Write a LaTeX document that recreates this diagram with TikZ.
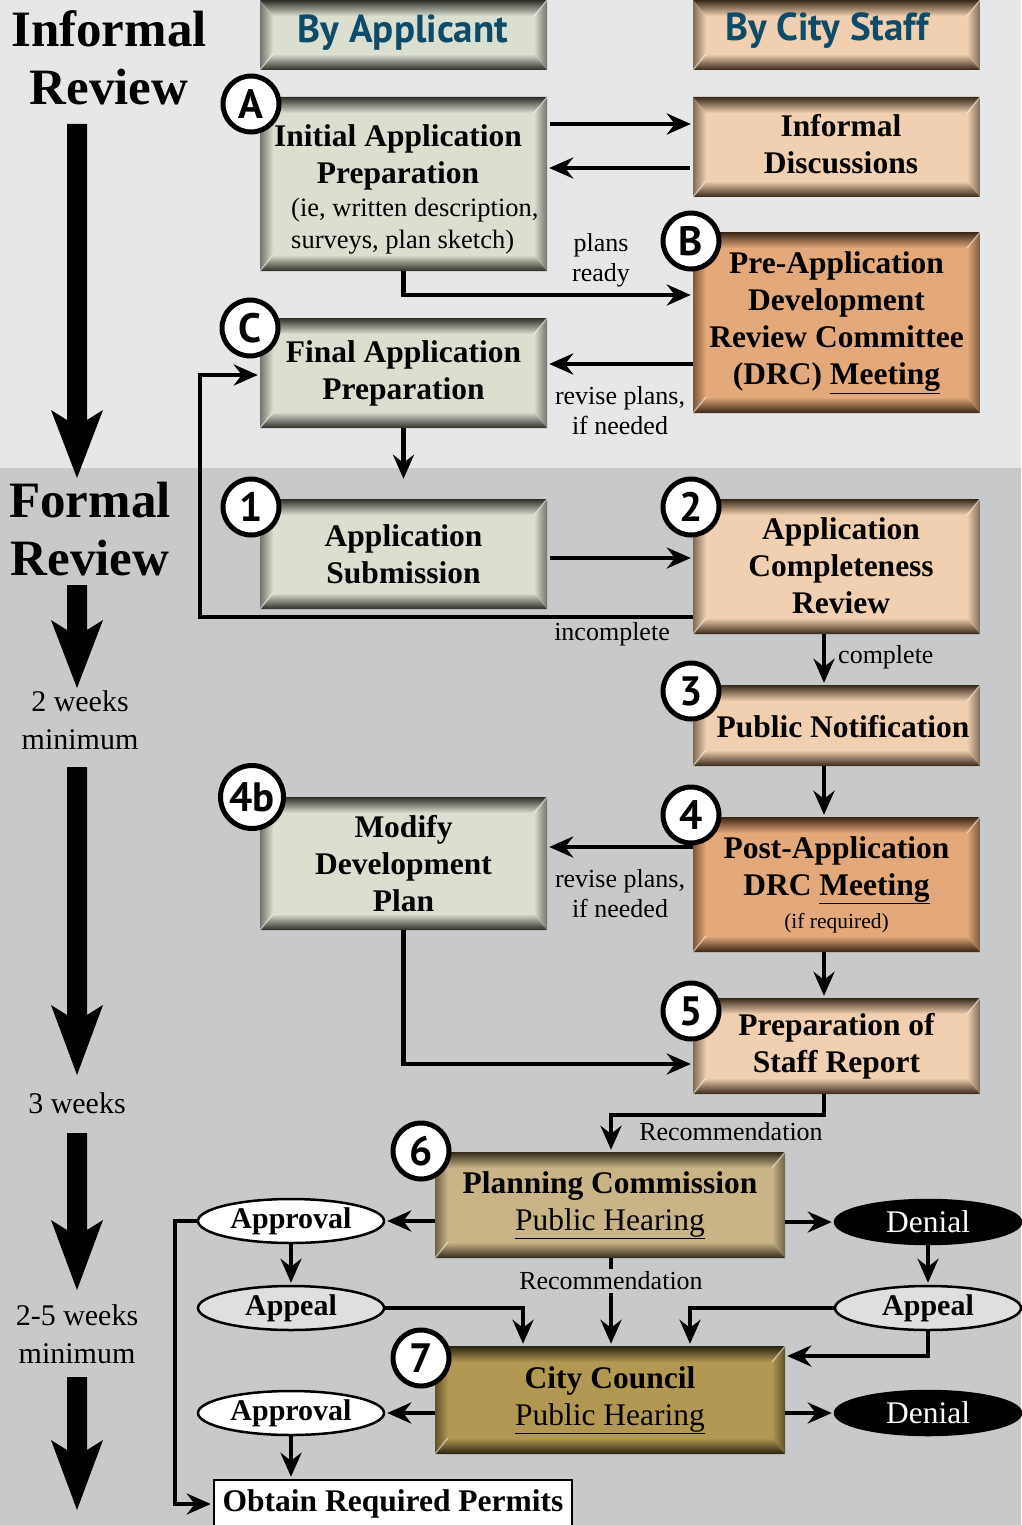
\documentclass[tikz,border=0pt]{standalone}
\usepackage{fontspec}
\setmainfont{Liberation Serif}
\newfontfamily\hdrfont{PT Sans}
\usetikzlibrary{arrows.meta,shapes.geometric,calc}

\definecolor{topbg}{HTML}{E6E7E9}
\definecolor{botbg}{HTML}{C8C9CB}
\definecolor{apF}{HTML}{DADFD0}
\definecolor{apE}{HTML}{2C2F27}
\definecolor{stF}{HTML}{F0D0B0}
\definecolor{stE}{HTML}{382818}
\definecolor{drF}{HTML}{E3A97A}
\definecolor{drE}{HTML}{3A2414}
\definecolor{pcF}{HTML}{C9B487}
\definecolor{pcE}{HTML}{342B1C}
\definecolor{ccF}{HTML}{B39854}
\definecolor{ccE}{HTML}{2A2210}
\definecolor{hdrblue}{HTML}{0D4B68}
\definecolor{appealF}{HTML}{DEDFE0}

\newcommand\bxfont{\bfseries\fontsize{31.5}{37}\selectfont}
\newcommand\rgfont{\fontsize{31.5}{37}\selectfont}
\newcommand\smfont{\fontsize{26.5}{32}\selectfont}
\newcommand\tinyfont{\fontsize{21.5}{26}\selectfont}
\newcommand\hdfont{\hdrfont\bfseries\fontsize{39}{40}\selectfont}

\tikzset{
  bev/.style 2 args={draw=none, fill=#1, inner sep=0pt, align=center, font=\bxfont,
    path picture={
      \path (path picture bounding box.north west) coordinate (pnw)
            (path picture bounding box.north east) coordinate (pne)
            (path picture bounding box.south west) coordinate (psw)
            (path picture bounding box.south east) coordinate (pse);
      \shade[top color=#2, bottom color=#1] (pnw) -- (pne) -- ([shift={(-13pt,-16pt)}]pne) -- ([shift={(13pt,-16pt)}]pnw) -- cycle;
      \shade[bottom color=#2, top color=#1] (psw) -- (pse) -- ([shift={(-13pt,16pt)}]pse) -- ([shift={(13pt,16pt)}]psw) -- cycle;
      \shade[left color=#2!60!#1, right color=#1] (pnw) -- ([shift={(13pt,-16pt)}]pnw) -- ([shift={(13pt,16pt)}]psw) -- (psw) -- cycle;
      \shade[right color=#2!60!#1, left color=#1] (pne) -- ([shift={(-13pt,-16pt)}]pne) -- ([shift={(-13pt,16pt)}]pse) -- (pse) -- cycle;
      \draw[white, opacity=.5, line width=1.3pt] (pne) -- ++(-13pt,-16pt) (psw) -- ++(13pt,16pt);
    }},
  wbox/.style={minimum width=287pt},
  ell/.style={ellipse, draw, line width=2.5pt, minimum width=186pt, minimum height=44pt, inner sep=0pt, font=\fontsize{30}{34}\selectfont},
  badge/.style={circle, draw, line width=5pt, fill=white, minimum size=56pt, inner sep=0pt, font=\hdrfont\bfseries\fontsize{41}{41}\selectfont},
  lbl/.style={inner sep=0pt, align=center, font=\fontsize{26}{30}\selectfont},
  side/.style={inner sep=0pt, align=center},
  txt/.style={inner sep=0pt, align=center},
  arr/.style={line width=4.5pt, -{Stealth[length=24pt,width=21pt,inset=8pt]}, shorten >=2pt},
  timeline/.style={fill=black}
}

\newcommand\bigarrow[3]{%
  \fill[timeline] (67,#1) -- (67,#2+10) -- (51,#2) -- (77,#3) -- (103,#2) -- (87,#2+10) -- (87,#1) -- cycle;}

\begin{document}
\begin{tikzpicture}[x=1pt,y=-1pt]
\useasboundingbox (0,0) rectangle (1021,1525);
\fill[topbg] (0,0) rectangle (1021,468);
\fill[botbg] (0,468) rectangle (1021,1525);

% level coordinates
\coordinate (y124) at (0,124);
\coordinate (y168) at (0,168);
\coordinate (y295) at (0,295);
\coordinate (y364) at (0,364);
\coordinate (y558) at (0,558);
\coordinate (y617) at (0,617);
\coordinate (y847) at (0,847);
\coordinate (y1064) at (0,1064);
\coordinate (y1115) at (0,1115);
\coordinate (y1356) at (0,1356);
\coordinate (x824) at (824,0);
\coordinate (x611) at (611,0);
\coordinate (x523) at (523,0);
\coordinate (x690) at (690,0);
\coordinate (x175) at (175,0);
\coordinate (lp) at (200,375);

% left column
\node[side, font=\bfseries\fontsize{51}{58}\selectfont] (tinf) at (109,58) {Informal\\Review};
\node[side, font=\bfseries\fontsize{51}{58}\selectfont] (tform) at (90,529) {Formal\\Review};
\node[side, font=\fontsize{30}{38}\selectfont] (t2w) at (80,720) {2 weeks\\minimum};
\node[side, font=\fontsize{30}{38}\selectfont] (t3w) at (77,1103) {3 weeks};
\node[side, font=\fontsize{30}{38}\selectfont] (t25w) at (77,1334) {2-5 weeks\\minimum};
\bigarrow{124}{410}{478}
\bigarrow{585}{620}{688}
\bigarrow{767}{1005}{1075}
\bigarrow{1133}{1220}{1290}
\bigarrow{1377}{1440}{1510}

% boxes
\node[bev={apF}{apE}, wbox, minimum height=70pt] (hdrA) at (403.5,35) {};
\node[txt, text=hdrblue, font=\hdfont] (hdrAt) at (403,33) {By Applicant};
\node[bev={stF}{stE}, wbox, minimum height=70pt] (hdrC) at (836.5,35) {};
\node[txt, text=hdrblue, font=\hdfont] (hdrCt) at (827,31) {By City Staff};

\node[bev={apF}{apE}, wbox, minimum height=174pt] (boxA) at (403.5,184) {};
\node[txt, font=\bxfont] (boxAt) at (398,157.5) {Initial Application\\Preparation};
\node[txt, font=\smfont, align=left, anchor=west] (boxAs) at (291,226) {(ie, written description,\\surveys, plan sketch)};
\node[bev={stF}{stE}, wbox, minimum height=100pt] (infd) at (836.5,147) {};
\node[txt, font=\bxfont] (infdt) at (841,144) {Informal\\Discussions};
\node[bev={drF}{drE}, wbox, minimum height=181pt] (boxB) at (836.5,322.5) {Pre-Application\\Development\\Review Committee\\(DRC) \underline{Meeting}};
\node[bev={apF}{apE}, wbox, minimum height=110pt] (boxC) at (403.5,373) {Final Application\\Preparation};
\node[bev={apF}{apE}, wbox, minimum height=110pt] (box1) at (403.5,554) {Application\\Submission};
\node[bev={stF}{stE}, wbox, minimum height=135pt] (box2) at (836.5,566.5) {};
\node[txt, font=\bxfont] (box2t) at (841,565.5) {Application\\Completeness\\Review};
\node[bev={stF}{stE}, wbox, minimum height=81pt] (box3) at (836.5,725.5) {};
\node[txt, font=\bxfont] (box3t) at (843,727) {Public Notification};
\node[bev={apF}{apE}, wbox, minimum height=133pt] (box4b) at (403.5,863.5) {Modify\\Development\\Plan};
\node[bev={drF}{drE}, wbox, minimum height=135pt] (box4) at (836.5,884.5) {Post-Application\\DRC \underline{Meeting}\\[-4pt]{\mdseries\tinyfont (if required)}};
\node[bev={stF}{stE}, wbox, minimum height=96pt] (box5) at (836.5,1046) {Preparation of\\Staff Report};
\node[bev={pcF}{pcE}, minimum width=350pt, minimum height=106pt] (box6) at (610,1205) {Planning Commission\\{\mdseries\rgfont\underline{Public Hearing}}};
\node[bev={ccF}{ccE}, minimum width=350pt, minimum height=108pt] (box7) at (610,1400) {City Council\\{\mdseries\rgfont\underline{Public Hearing}}};
\node[draw, line width=2.5pt, fill=white, minimum width=358pt, minimum height=48pt, inner sep=0pt, font=\bxfont] (permits) at (393,1504) {Obtain Required Permits};

% ellipses
\node[ell, fill=white, font=\bfseries\fontsize{30}{34}\selectfont] (appr1) at (291,1221) {Approval};
\node[ell, fill=appealF, font=\bfseries\fontsize{30}{34}\selectfont] (app1) at (291,1308) {Appeal};
\node[ell, fill=black, text=white, font=\rgfont] (den1) at (928,1222) {Denial};
\node[ell, fill=appealF, font=\bfseries\fontsize{30}{34}\selectfont] (app2) at (928,1308) {Appeal};
\node[ell, fill=white, font=\bfseries\fontsize{30}{34}\selectfont] (appr2) at (291,1413) {Approval};
\node[ell, fill=black, text=white, font=\rgfont] (den2) at (928,1413) {Denial};

% labels
\node[lbl] (lplans) at (601,260) {plans\\ready};
\node[lbl] (lrev1) at (620,411) {revise plans,\\if needed};
\node[lbl] (linc) at (612,634) {incomplete};
\node[lbl, anchor=west] (lcomp) at (838,657) {complete};
\node[lbl] (lrev2) at (620,894) {revise plans,\\if needed};
\node[lbl] (lrec1) at (731,1132) {Recommendation};

% connectors
\draw[arr, shorten <=3pt] (boxA.east |- y124) -- (infd.west |- y124);
\draw[arr, shorten <=3pt] (infd.west |- y168) -- (boxA.east |- y168);
\draw[arr] (boxA.south) |- (boxB.west |- y295);
\draw[arr] (boxB.west |- y364) -- (boxC.east |- y364);
\draw[arr, shorten >=20pt] (boxC.south) -- (box1.north);
\draw[arr, shorten <=3pt] (box1.east |- y558) -- (box2.west |- y558);
\draw[arr] (box2.west |- y617) -| (lp) -- (boxC.west |- lp);
\draw[arr] (box2.south -| x824) -- (box3.north -| x824);
\draw[arr] (box3.south -| x824) -- (box4.north -| x824);
\draw[arr] (box4.west |- y847) -- (box4b.east |- y847);
\draw[arr] (box4.south -| x824) -- (box5.north -| x824);
\draw[arr] (box4b.south) |- (box5.west |- y1064);
\draw[arr] (box5.south -| x824) -- (x824 |- y1115) -| (box6.north -| x611);
\draw[arr] (box6.west |- appr1) -- (appr1.east);
\draw[arr] (box6.east |- den1) -- (den1.west);
\draw[arr] (appr1.south) -- (app1.north);
\draw[arr] (den1.south) -- (app2.north);
\draw[arr] (box6.south -| x611) -- (box7.north -| x611);
\node[lbl, fill=botbg, inner ysep=3pt] (lrec2) at (611,1281) {Recommendation};
\draw[arr] (app1.east) -| (box7.north -| x523);
\draw[arr] (app2.west) -| (box7.north -| x690);
\draw[arr] (app2.south) |- (box7.east |- y1356);
\draw[arr] (box7.west |- appr2) -- (appr2.east);
\draw[arr] (box7.east |- den2) -- (den2.west);
\draw[arr] (appr2.south) -- (permits.north -| appr2.south);
\draw[arr] (appr1.west) -- (x175 |- appr1.west) |- (permits.west);

% badges
\node[badge] (bA) at (251,104) {A};
\node[badge] (bB) at (691,241) {B};
\node[badge] (bC) at (250,328) {C};
\node[badge] (b1) at (251,507) {1};
\node[badge] (b2) at (691,507) {2};
\node[badge] (b3) at (691,691) {3};
\node[badge, minimum size=63pt] (b4b) at (252,797) {4b};
\node[badge] (b4) at (691,815) {4};
\node[badge] (b5) at (691,1011) {5};
\node[badge] (b6) at (421,1151) {6};
\node[badge] (b7) at (421,1358) {7};
\end{tikzpicture}
\end{document}
